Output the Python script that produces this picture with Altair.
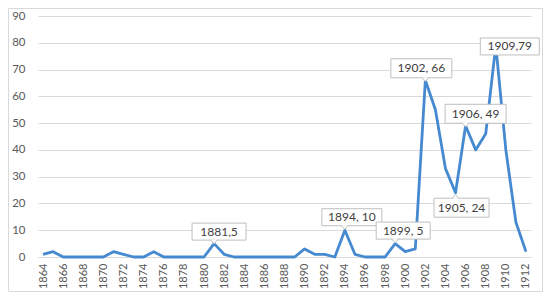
import altair as alt
import pandas as pd

# ---- data ----
years = [1864, 1865, 1866, 1867, 1868, 1869, 1870, 1871, 1872, 1873,
         1874, 1875, 1876, 1877, 1878, 1879, 1880, 1881, 1882, 1883,
         1884, 1885, 1886, 1887, 1888, 1889, 1890, 1891, 1892, 1893,
         1894, 1895, 1896, 1897, 1898, 1899, 1900, 1901, 1902, 1903,
         1904, 1905, 1906, 1907, 1908, 1909, 1910, 1911, 1912]
values = [1, 2, 0, 0, 0, 0, 0, 2, 1, 0,
          0, 2, 0, 0, 0, 0, 0, 5, 1, 0,
          0, 0, 0, 0, 0, 0, 3, 1, 1, 0,
          10, 1, 0, 0, 0, 5, 2, 3, 66, 55,
          33, 24, 49, 40, 46, 79, 40, 13, 2]

label_years = [1881, 1894, 1899, 1902, 1905, 1906, 1909]
label_values = [5, 10, 5, 66, 24, 49, 79]
label_texts = ["1881,5", "1894, 10", "1899, 5", "1902, 66", "1905, 24", "1906, 49", "1909,79"]
x_tick_labels = list(range(1864, 1913, 2))
y_tick_labels = [0, 10, 20, 30, 40, 50, 60, 70, 80, 90]

# ---- layout (pixel offsets of callouts relative to their point) ----
# dx, dy, box width, box height, pointer direction
callout_layout = [
    (5, -12, 54, 17, "down"),
    (7, -13, 60, 17, "down"),
    (8, -13, 54, 17, "down"),
    (-4, -12, 61, 19, "down"),
    (6, 15, 55, 19, "up"),
    (10, -12, 61, 19, "down"),
    (14, 1, 59, 17, None),
]

FONT = "Lato"
LINE_COLOR = "#4589D0"
GRID = "#D9D9D9"
W, H = 493, 241

df = pd.DataFrame({"year": years, "value": values})
ldf = pd.DataFrame({"year": label_years, "value": label_values, "text": label_texts})

x_enc = alt.X("year:Q",
              scale=alt.Scale(domain=[1863.5, 1912.5], nice=False, zero=False),
              axis=alt.Axis(values=x_tick_labels, format="d", labelAngle=270,
                            labelOverlap=False, labelFlush=False, labelBound=False,
                            grid=False, ticks=False, domain=True, domainColor=GRID,
                            labelPadding=6, labelFont=FONT, labelFontSize=11,
                            labelColor="#595959", title=None))
y_enc = alt.Y("value:Q",
              scale=alt.Scale(domain=[0, 90], nice=False),
              axis=alt.Axis(values=y_tick_labels, grid=True, gridColor=GRID,
                            labelOverlap=False, labelFlush=False, labelBound=False,
                            ticks=False, domain=False, labelPadding=13,
                            labelFont=FONT, labelFontSize=11.5,
                            labelColor="#595959", title=None))

border = alt.Chart(pd.DataFrame({"a": [0]})).mark_rect(
    fillOpacity=0, stroke=GRID, strokeWidth=1
).encode(x=alt.value(-29.5), x2=alt.value(504.5), y=alt.value(-7.5), y2=alt.value(275.5))

line = alt.Chart(df).mark_line(color=LINE_COLOR, strokeWidth=2.8, strokeJoin="round").encode(
    x=x_enc, y=y_enc)

layers = [border, line]
for i in range(len(label_years)):
    dx, dy, bw, bh, ptr = callout_layout[i]
    one = ldf.iloc[[i]]
    base = alt.Chart(one).encode(x=x_enc, y=y_enc)
    layers.append(base.mark_rect(width=bw, height=bh, xOffset=dx, yOffset=dy,
                                 fill="white", stroke="#BFBFBF", strokeWidth=1))
    if ptr == "down":
        layers.append(base.mark_point(shape="M-1,-0.6L0,0.6L1,-0.6", size=49, filled=True,
                                      fill="white", stroke="#BFBFBF", strokeWidth=1,
                                      opacity=1, yOffset=dy + bh / 2 + 1.6))
    elif ptr == "up":
        layers.append(base.mark_point(shape="M-1,0.6L0,-0.6L1,0.6", size=49, filled=True,
                                      fill="white", stroke="#BFBFBF", strokeWidth=1,
                                      opacity=1, yOffset=dy - bh / 2 - 1.6))
    layers.append(base.mark_text(dx=dx, dy=dy, font=FONT, fontSize=12, color="#404040",
                                 align="center", baseline="middle").encode(text="text:N"))

chart = alt.layer(*layers).properties(
    width=W, height=H,
    autosize=alt.AutoSizeParams(type="none"),
    padding={"left": 30, "top": 8, "right": 12, "bottom": 35},
    background="white",
).configure_view(stroke=None)

chart.save("out.html", embed_options={"renderer": "svg", "actions": False})
